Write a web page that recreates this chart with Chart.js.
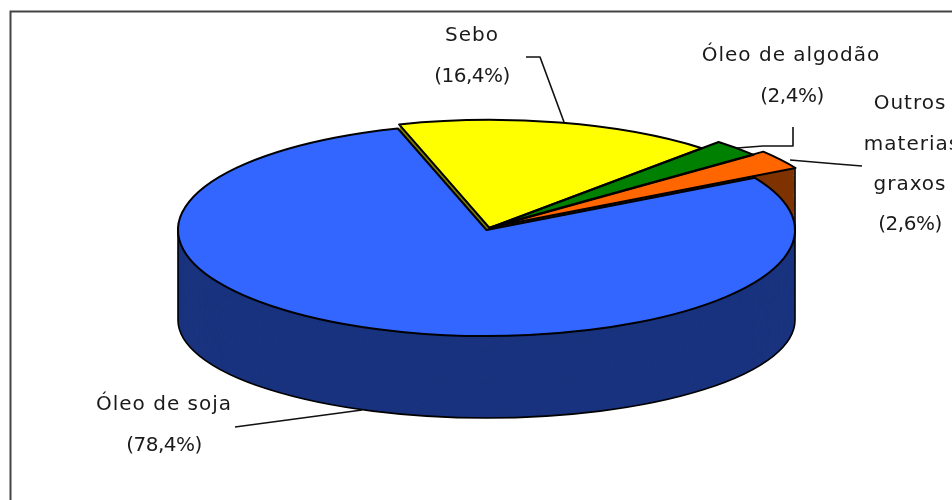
<!DOCTYPE html>
<html><head><meta charset="utf-8">
<style>html,body{margin:0;padding:0;background:#fff}canvas{display:block}</style>
<script src="https://cdn.jsdelivr.net/npm/chart.js@4"></script></head>
<body><canvas id="c" width="952" height="500"></canvas>
<script>
const categories = ['Sebo', 'Óleo de algodão', 'Outros materias graxos', 'Óleo de soja'];
const shares = [16.4, 2.4, 2.6, 78.4];

const topColors = ['#FFFF00', '#008000', '#FF6600', '#3366FF'];
const wallColors = ['#7F7F00', '#004000', '#7F3300', '#19337F'];
const radiusFactor = [1.02, 1.10, 1.14, 1];
const centers = [[489.5,228],[489.5,228],[489.5,227.5],[486.5,230]];
const RX = 308.5, RY = 106, DEPTH = 90, RY_BOTTOM = 98;

const labels = [
  {x:472,y:36,t:'Sebo',s:1},{x:472,y:77,t:'(16,4%)',s:-0.5},
  {x:791,y:56,t:'Óleo de algodão',s:1},{x:792,y:97,t:'(2,4%)',s:-0.5},
  {x:910,y:104,t:'Outros',s:1},{x:912,y:145,t:'materias',s:1},{x:910,y:185,t:'graxos',s:1},{x:910,y:225,t:'(2,6%)',s:-0.5},
  {x:164,y:405,t:'Óleo de soja',s:1},{x:164,y:446,t:'(78,4%)',s:-0.5}
];
const leaders = [
  [[526,57],[540,57],[564,122]],
  [[793,127],[793,146],[763,146],[737,148]],
  [[862,166],[837,164],[790,160]],
  [[235,427],[362,410]]
];

function squash(chart, ctx, dy, ry){
  const a = chart.chartArea;
  const base = Math.min(a.right-a.left, a.bottom-a.top)/2;
  const sx = RX/base, sy = (ry||RY)/base;
  const Cx = (a.left+a.right)/2, Cy = (a.top+a.bottom)/2;
  ctx.transform(sx,0,0,sy, centers[3][0]-sx*Cx, centers[3][1]+(dy||0)-sy*Cy);
}
function placeArcs(chart){
  const a = chart.chartArea, meta = chart.getDatasetMeta(0);
  const base = Math.min(a.right-a.left, a.bottom-a.top)/2;
  const sx = RX/base, sy = RY/base;
  const Cx = (a.left+a.right)/2, Cy = (a.top+a.bottom)/2;
  meta.data.forEach((arc,i)=>{
    arc.x = Cx + (centers[i][0]-centers[3][0])/sx;
    arc.y = Cy + (centers[i][1]-centers[3][1])/sy;
    arc.outerRadius = base*radiusFactor[i];
    arc.innerRadius = 0;
  });
}
function wedge(chart, ctx, arc, dy, ry){
  ctx.save();
  squash(chart, ctx, dy, ry);
  ctx.beginPath();
  ctx.moveTo(arc.x,arc.y);
  ctx.arc(arc.x,arc.y,arc.outerRadius,arc.startAngle,arc.endAngle);
  ctx.closePath();
  ctx.restore();
}
const pie3d = {
  id:'pie3d',
  beforeDraw(chart){
    const ctx = chart.ctx;
    ctx.save();
    ctx.strokeStyle='#444'; ctx.lineWidth=2;
    ctx.beginPath(); ctx.moveTo(952,11.5); ctx.lineTo(10.5,11.5); ctx.lineTo(10.5,500); ctx.stroke();
    ctx.restore();
  },
  beforeDatasetsDraw(chart){
    placeArcs(chart);
    const ctx = chart.ctx, arcs = chart.getDatasetMeta(0).data;
    [0,1,2,3].forEach(i=>{
      ctx.fillStyle = wallColors[i];
      for(let d=DEPTH;d>=0;d--){
        wedge(chart,ctx,arcs[i],d,RY+(RY_BOTTOM-RY)*d/DEPTH); ctx.fill();
      }
    });
    const b = arcs[3];
    ctx.save(); squash(chart,ctx,DEPTH,RY_BOTTOM); ctx.beginPath();
    ctx.arc(b.x,b.y,b.outerRadius,0,Math.PI); ctx.restore();
    ctx.strokeStyle='#000'; ctx.lineWidth=1.6; ctx.stroke();
    ctx.beginPath();
    ctx.moveTo(centers[3][0]-RX,230); ctx.lineTo(centers[3][0]-RX,centers[3][1]+DEPTH);
    ctx.moveTo(centers[3][0]+RX,167); ctx.lineTo(centers[3][0]+RX,centers[3][1]+DEPTH);
    ctx.stroke();
    ctx.save(); squash(chart,ctx);
  },
  afterDatasetsDraw(chart){
    const ctx = chart.ctx, arcs = chart.getDatasetMeta(0).data;
    ctx.restore();
    ctx.strokeStyle='#000'; ctx.lineWidth=2; ctx.lineJoin='round';
    [3,0,1,2].forEach(i=>{ wedge(chart,ctx,arcs[i],0); ctx.stroke(); });
    ctx.strokeStyle='#111'; ctx.lineWidth=1.6;
    leaders.forEach(p=>{ ctx.beginPath(); p.forEach((q,j)=> j?ctx.lineTo(q[0],q[1]):ctx.moveTo(q[0],q[1])); ctx.stroke(); });
    ctx.fillStyle='#1a1a1a'; ctx.font='20px "DejaVu Sans"';
    ctx.textAlign='center'; ctx.textBaseline='middle';
    labels.forEach(l=>{ ctx.letterSpacing=l.s+'px'; ctx.fillText(l.t,l.x,l.y); });
  }
};
new Chart(document.getElementById('c'),{
  type:'pie',
  data:{labels:categories,datasets:[{data:shares,backgroundColor:topColors,borderWidth:0,clip:false}]},
  options:{responsive:false,animation:false,rotation:-16.7,layout:{padding:0},
    plugins:{legend:{display:false},tooltip:{enabled:false},title:{display:false}}},
  plugins:[pie3d]
});
</script></body></html>
